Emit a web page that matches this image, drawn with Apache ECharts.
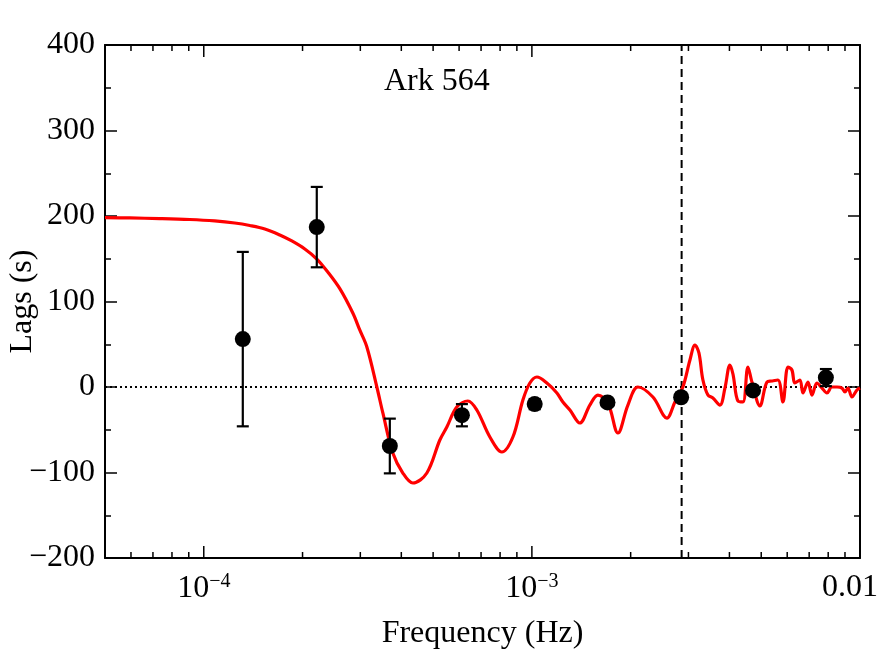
<!DOCTYPE html>
<html>
<head>
<meta charset="utf-8">
<script src="https://cdn.jsdelivr.net/npm/echarts@6/dist/echarts.min.js"></script>
<style>html,body{margin:0;padding:0;background:#fff}#c{width:886px;height:663px}</style>
</head>
<body>
<div id="c"></div>
<script>
// ---- data ----
const pointFreq = [1.315e-4, 2.21e-4, 3.69e-4, 6.12e-4, 1.02e-3, 1.70e-3, 2.85e-3, 4.72e-3, 7.87e-3];
const pointLag  = [56, 187, -69, -33, -20, -18, -12, -4, 11];
const pointErr  = [102, 47, 32, 13, 6, 4, 5, 4, 10];

const modelFreq = [5.0e-5, 5.95e-5, 7.34e-5, 9.06e-5, 1.080e-4, 1.243e-4, 1.381e-4, 1.535e-4, 1.705e-4, 1.855e-4,
  2.032e-4, 2.211e-4, 2.388e-4, 2.598e-4, 2.846e-4, 2.988e-4, 3.141e-4, 3.369e-4, 3.514e-4, 3.769e-4, 4.043e-4,
  4.337e-4, 4.785e-4, 5.242e-4, 5.506e-4,
  5.904e-4, 6.38e-4, 6.795e-4, 7.447e-4, 8.10e-4, 8.752e-4, 9.389e-4, 9.86e-4, 1.036e-3, 1.111e-3,
  1.192e-3, 1.243e-3, 1.306e-3, 1.40e-3, 1.502e-3, 1.589e-3, 1.705e-3, 1.829e-3, 1.962e-3, 2.104e-3,
  2.338e-3, 2.58e-3, 2.729e-3, 2.886e-3, 3.032e-3, 3.141e-3, 3.229e-3, 3.321e-3, 3.44e-3, 3.562e-3,
  3.742e-3, 3.876e-3, 4.014e-3, 4.10e-3, 4.246e-3, 4.398e-3, 4.555e-3, 4.685e-3, 4.955e-3, 5.205e-3,
  5.39e-3, 5.623e-3, 5.823e-3, 6.03e-3, 6.202e-3, 6.333e-3, 6.56e-3, 6.70e-3, 6.94e-3, 7.14e-3,
  7.39e-3, 7.66e-3, 7.93e-3, 8.21e-3, 8.51e-3, 8.81e-3, 9.0e-3, 9.19e-3, 9.45e-3, 9.79e-3, 1.0e-2];
const modelLag = [198.2, 197.7, 197, 195.9, 194.2, 191.8, 188.9, 184.8, 177.8, 170.8,
  161.4, 149.7, 134.5, 115, 86.5, 66.7, 46.8, 0, -30.4, -77.2, -100.6,
  -112.3, -100.6, -62, -46.8,
  -23.4, -16.4, -26.9, -58.5, -76, -58.5, -15.2, 4.7, 11.7, 4.7,
  -7, -17.5, -26.9, -42.1, -21.1, -9.4, -18.7, -53.8, -21.1, 0,
  -11.7, -36.3, -17.5, 0, 31.6, 49.1, 39.8, 8.2, -9.4, -12.9,
  -21.1, -1.2, 25.7, 15.2, -16.4, -17.5, 23.4, 5.8, -22.2, 5.8,
  7, 8.2, -17.5, 23.4, 19.9, 4.7, 8.2, -7, 5.8, -9.4,
  4.7, -1.2, -7, 0, 0, -1.2, -5.8, -1.2, -11.7, -3.5, -1.2];

const xMin = 5e-5, xMax = 0.01;
const yMin = -200, yMax = 400, yStep = 100;
const cutoffFreq = 2.86e-3;
const xMajorTicks = [1e-4, 1e-3, 1e-2];
const xMinorTicks = [5e-5, 6e-5, 7e-5, 8e-5, 9e-5, 2e-4, 3e-4, 4e-4, 5e-4, 6e-4, 7e-4, 8e-4, 9e-4,
  2e-3, 3e-3, 4e-3, 5e-3, 6e-3, 7e-3, 8e-3, 9e-3];
const xTickLabels = {'-4': ['10', '−4'], '-3': ['10', '−3'], '-2': ['0.01', '']};
const titleText = 'Ark 564';
const xName = 'Frequency (Hz)';
const yName = 'Lags (s)';

// ---- chart ----
const FONT = 'Liberation Serif';
const FS = 32;
const chart = echarts.init(document.getElementById('c'), null, {renderer: 'canvas'});

const ticks = xMajorTicks.map(v => [v, 1]).concat(xMinorTicks.map(v => [v, 0]));

const option = {
  animation: false,
  backgroundColor: '#fff',
  title: {
    text: titleText, left: 379, top: 61,
    textStyle: {fontFamily: FONT, fontSize: FS, fontWeight: 'normal', color: '#000'}
  },
  grid: {left: 105, right: 26, top: 45, bottom: 105, containLabel: false, outerBoundsMode: 'none'},
  xAxis: [{
    type: 'log', logBase: 10, min: xMin, max: xMax, position: 'bottom',
    axisLine: {show: true, onZero: false, lineStyle: {color: '#000', width: 2}},
    axisTick: {show: false}, splitLine: {show: false}, minorTick: {show: false},
    axisLabel: {
      margin: 14, showMinLabel: false, hideOverlap: false,
      formatter: function (v) {
        const e = Math.round(Math.log10(v));
        if (Math.abs(Math.log10(v) - e) > 1e-6) return '';
        const l = xTickLabels[String(e)];
        if (!l) return '';
        return l[1] ? '{b|' + l[0] + '}{s|' + l[1] + '}' : '{e|' + l[0] + '}';
      },
      rich: {
        b: {fontFamily: FONT, fontSize: FS, color: '#000'},
        e: {fontFamily: FONT, fontSize: FS, color: '#000', padding: [0, 20, 0, 0]},
        s: {fontFamily: FONT, fontSize: 20, color: '#000', padding: [0, 0, 14, 0]}
      }
    },
    name: xName, nameLocation: 'middle', nameGap: 60, nameMoveOverlap: false,
    nameTextStyle: {fontFamily: FONT, fontSize: FS, color: '#000'}
  }, {
    type: 'log', logBase: 10, min: xMin, max: xMax, position: 'top',
    axisLine: {show: true, onZero: false, lineStyle: {color: '#000', width: 2}},
    axisTick: {show: false}, axisLabel: {show: false}, splitLine: {show: false}
  }],
  yAxis: [{
    type: 'value', min: yMin, max: yMax, interval: yStep, position: 'left',
    axisLine: {show: true, onZero: false, lineStyle: {color: '#000', width: 2}},
    axisTick: {show: true, inside: true, length: 12, lineStyle: {color: '#000', width: 1.5}},
    minorTick: {show: true, splitNumber: 2, length: 6, lineStyle: {color: '#000', width: 1.5}},
    splitLine: {show: false},
    axisLabel: {
      margin: 10, fontFamily: FONT, fontSize: FS, color: '#000',
      formatter: v => (v < 0 ? '\u2212' + Math.abs(v) : String(v))
    },
    name: yName, nameLocation: 'middle', nameGap: 66, nameMoveOverlap: false,
    nameTextStyle: {fontFamily: FONT, fontSize: FS, color: '#000'}
  }, {
    type: 'value', min: yMin, max: yMax, interval: yStep, position: 'right',
    axisLine: {show: true, onZero: false, lineStyle: {color: '#000', width: 2}},
    axisTick: {show: true, inside: true, length: 12, lineStyle: {color: '#000', width: 1.5}},
    minorTick: {show: true, splitNumber: 2, length: 6, lineStyle: {color: '#000', width: 1.5}},
    splitLine: {show: false}, axisLabel: {show: false}
  }],
  series: [
    { // x ticks (bottom & top, inward)
      type: 'custom', silent: true, z: 1,
      data: ticks,
      renderItem: function (params, api) {
        const v = api.value(0), major = api.value(1) === 1;
        const p = api.coord([v, 0]);
        const cs = params.coordSys;
        const len = major ? 12 : 6;
        const st = {stroke: '#000', lineWidth: 1.5};
        return {type: 'group', children: [
          {type: 'line', shape: {x1: p[0], y1: cs.y + cs.height, x2: p[0], y2: cs.y + cs.height - len}, style: st},
          {type: 'line', shape: {x1: p[0], y1: cs.y, x2: p[0], y2: cs.y + len}, style: st}
        ]};
      }
    },
    { // zero line
      type: 'line', silent: true, z: 2, symbol: 'none',
      data: [[xMin, 0], [xMax, 0]],
      lineStyle: {color: '#000', width: 2, type: [2, 3]}
    },
    { // cutoff
      type: 'line', silent: true, z: 2, symbol: 'none',
      data: [[cutoffFreq, yMin], [cutoffFreq, yMax]],
      lineStyle: {color: '#000', width: 2, type: [8, 5]}
    },
    { // model
      type: 'line', silent: true, z: 3, symbol: 'none', smooth: 0.35,
      data: modelFreq.map((f, i) => [f, modelLag[i]]),
      lineStyle: {color: '#ff0000', width: 3.2}
    },
    { // error bars
      type: 'custom', silent: true, z: 4,
      data: pointFreq.map((f, i) => [f, pointLag[i] - pointErr[i], pointLag[i] + pointErr[i]]),
      renderItem: function (params, api) {
        const lo = api.coord([api.value(0), api.value(1)]);
        const hi = api.coord([api.value(0), api.value(2)]);
        const w = 6, st = {stroke: '#000', lineWidth: 2.2};
        return {type: 'group', children: [
          {type: 'line', shape: {x1: lo[0], y1: lo[1], x2: hi[0], y2: hi[1]}, style: st},
          {type: 'line', shape: {x1: lo[0] - w, y1: lo[1], x2: lo[0] + w, y2: lo[1]}, style: st},
          {type: 'line', shape: {x1: hi[0] - w, y1: hi[1], x2: hi[0] + w, y2: hi[1]}, style: st}
        ]};
      }
    },
    { // points
      type: 'scatter', silent: true, z: 5, symbol: 'circle', symbolSize: 16,
      data: pointFreq.map((f, i) => [f, pointLag[i]]),
      itemStyle: {color: '#000', opacity: 1}
    }
  ]
};
chart.setOption(option);
</script>
</body>
</html>
